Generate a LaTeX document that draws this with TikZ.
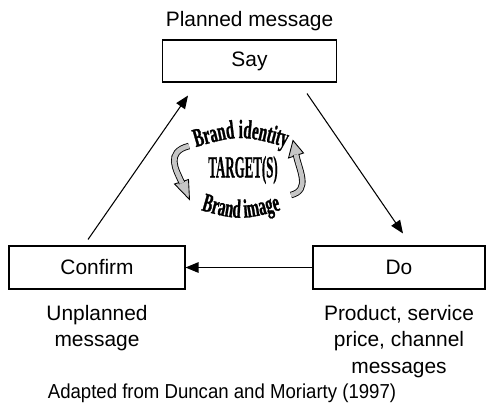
\documentclass[tikz,border=0pt]{standalone}
\usepackage{fontspec}
\setmainfont{Liberation Sans}
\newfontfamily\narrowserif[FakeStretch=0.56,FakeBold=1]{Liberation Serif}
\newfontfamily\boldserif[FakeBold=1]{Liberation Serif}
\usetikzlibrary{arrows.meta}
\usetikzlibrary{positioning}
\usetikzlibrary{decorations.text}
\tikzset{box/.style = {draw, line width=0.6pt, minimum width=3.48cm, minimum height=0.84cm, inner sep=0}}
\tikzset{arr/.style = {-{Triangle[length=0.26cm, width=0.21cm]}, line width=0.6pt}}
\tikzset{swirl/.style = {line width=0.5pt, double=gray!45, double distance=2.7pt}}
\tikzset{swirlhead/.style = {fill=gray!45, draw, line width=0.5pt}}
\newcommand{\curvedfont}{\narrowserif\bfseries\fontsize{15}{17}\selectfont}

\begin{document}
\begin{tikzpicture}[x=0.02cm, y=-0.02cm, font=\fontsize{11.9}{15.3}\selectfont]
  \useasboundingbox (0,0) rectangle (486,403);
  % the three boxes
  \node [box] (say) at (249.5, 61) {Say};
  \node [box, minimum width=3.52cm, minimum height=0.86cm] (confirm) at (97, 267.5) {Confirm};
  \node [box, minimum width=3.44cm, minimum height=0.86cm] (do) at (399, 267.5) {Do};
  \node [above=0.16cm of say, inner sep=0] (planned) {Planned message};
  \node [below=0.3cm of confirm, align=center, inner sep=0] (unplanned) {Unplanned\\message};
  \node [below=0.3cm of do, align=center, inner sep=0] (product) {Product, service\\price, channel\\messages};
  \node [anchor=base, inner sep=0, font=\fontsize{11.5}{13}\selectfont] (source) at (222, 398) {\scalebox{0.92}[1]{Adapted from Duncan and Moriarty (1997)}};
  \draw [arr] ([xshift=-0.18cm, yshift=0.12cm]confirm.north) -- ([xshift=-1.23cm, yshift=-0.26cm]say.south);
  \draw [arr] ([xshift=1.15cm, yshift=-0.22cm]say.south) -- ([xshift=0.08cm, yshift=0.24cm]do.north);
  \draw [arr] (do.west) -- (confirm.east);
  % centre
  \node [font=\boldserif\bfseries\fontsize{17.5}{19}\selectfont, inner sep=0] (target) at (243, 170) {\scalebox{0.42}[1]{TARGET(S)}};
  \path [decorate, decoration={text along path, text align=center, text={|\curvedfont|Brand identity}}] (186,150) .. controls (240,134) .. (296,150);
  \path [decorate, decoration={text along path, text align=center, text={|\curvedfont|Brand image}}] (184,205) .. controls (240,222) .. (298,205);
  \filldraw [swirlhead] (188.5,179.5) -- (189.5,199.5) -- (174.5,184) -- cycle;
  \draw [swirl] (189,146) .. controls (165,152) and (176,170) .. (182,183);
  \filldraw [swirlhead] (303.5,153) -- (293,140.5) -- (288.5,158) -- cycle;
  \draw [swirl] (291,195) .. controls (311,190) and (299,170) .. (296,154.5);
\end{tikzpicture}
\end{document}
